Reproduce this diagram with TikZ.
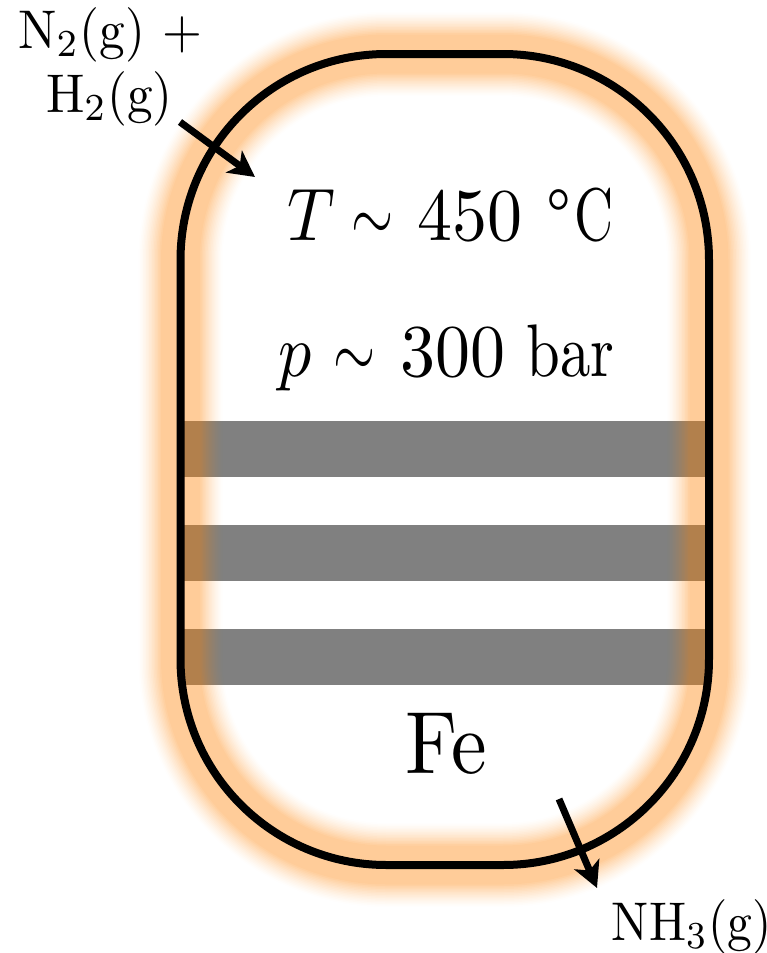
\documentclass[tikz,border=0pt]{standalone}
\usepackage{graphicx}
\usetikzlibrary{arrows.meta}
\definecolor{glow}{RGB}{255,128,0}
\definecolor{band}{RGB}{128,128,128}
\tikzset{
  bigtxt/.style={xscale=6.6,yscale=7.45,inner sep=0pt,anchor=base west},
  fetxt/.style={xscale=8,yscale=8.85,inner sep=0pt,anchor=base},
  smalltxt/.style={xscale=5.12,yscale=5.45,inner sep=0pt,anchor=base},
  prodtxt/.style={xscale=4.95,yscale=5.45,inner sep=0pt,anchor=base west},
  bandbar/.style={fill=band,draw=none},
  flowarrow/.style={line width=7pt,-{Stealth[length=26pt,width=27pt,inset=7pt]}}
}
\newcommand{\vesselpath}{(180.5,260) arc[start angle=180,end angle=270,radius=206] -- (503,54) arc[start angle=270,end angle=360,radius=206] -- (709,659) arc[start angle=0,end angle=90,radius=206] -- (386.5,865) arc[start angle=90,end angle=180,radius=206] -- cycle}
\newcommand{\narrowsim}{\scalebox{.82}[1]{$\sim$}}
\newcommand{\widenum}[1]{\scalebox{1.06}[1]{#1}}
\begin{document}
\begin{tikzpicture}[x=1pt,y=-1pt]
\useasboundingbox (0,0) rectangle (767,953);
\fill[bandbar] (184,421) rectangle (706,477);
\fill[bandbar] (184,525) rectangle (706,581);
\fill[bandbar] (184,629) rectangle (706,685);
\begin{scope}[transparency group,opacity=0.4]
\foreach \k in {1,...,16}{
  \pgfmathsetmacro{\w}{84-(\k-1)*3}
  \pgfmathsetmacro{\ta}{\k/16}
  \pgfmathsetmacro{\tb}{(\k-1)/16}
  \pgfmathsetmacro{\aa}{\ta^1.35}
  \pgfmathsetmacro{\ab}{\k==1 ? 0 : \tb^1.35}
  \pgfmathsetmacro{\a}{\k==16 ? 1 : 1-(1-\aa)/(1-\ab)}
  \draw[glow,line width=\w pt,draw opacity=\a,line join=round] \vesselpath;
}
\end{scope}
\draw[line width=8pt,black] \vesselpath;
\node[bigtxt] (temp) at (286,240) {$T$\kern2.5pt\narrowsim\kern3.6pt\widenum{450}\kern3.7pt\textdegree\kern0.5pt\scalebox{.82}[1]{C}};
\node[bigtxt] (pres) at (277,376) {$p$\kern3.3pt\narrowsim\kern3.8pt\widenum{300}\kern3.2pt\scalebox{.92}[1]{bar}};
\node[fetxt] (fe) at (446,773) {Fe};
\node[smalltxt] (feedone) at (110,48) {N$_2$(g) $+$};
\node[smalltxt] (feedtwo) at (109.5,112) {H$_2$(g)};
\node[prodtxt] (prod) at (611,940) {NH$_3$(g)};
\coordinate (feedstart) at (180,122);
\coordinate (feedend) at (255,177);
\coordinate (prodstart) at (559,799);
\coordinate (prodend) at (597,888);
\draw[flowarrow] (feedstart) -- (feedend);
\draw[flowarrow] (prodstart) -- (prodend);
\end{tikzpicture}
\end{document}
